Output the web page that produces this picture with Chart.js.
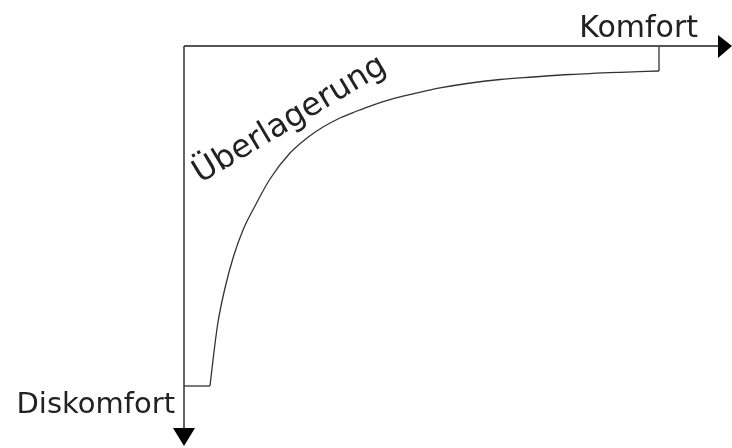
<!DOCTYPE html>
<html>
<head>
<meta charset="utf-8">
<script src="https://cdn.jsdelivr.net/npm/chart.js@4"></script>
<style>
    body { margin: 0; background: #fff; }
    #wrap { width: 732px; height: 448px; }
</style>
</head>
<body>
<div id="wrap"><canvas id="myChart"></canvas></div>
<script>
// curve (x = Komfort direction, y = Diskomfort, grows downward)
const curveX = [4.87, 5.43, 6.37, 7.68, 9.18, 11.05, 13.3, 16.1, 19.85, 23.03, 26.03, 29.21, 32.4, 35.39, 38.58, 43.63, 47.94, 53.0, 59.18, 65.36, 72.28, 81.65, 88.95];
const curveY = [89.01, 82.2, 72.25, 63.35, 55.5, 48.17, 41.88, 34.82, 28.01, 24.08, 21.2, 18.85, 17.02, 15.45, 14.01, 12.3, 10.99, 9.82, 8.77, 8.12, 7.46, 6.88, 6.54];

// the two short straight pieces at both ends of the curve
const startX = [0, 4.87];
const startY = [89.01, 89.01];
const endX = [88.95, 88.95];
const endY = [6.54, 0];

const axisLabels = ['Komfort', 'Diskomfort'];
const curveLabel = 'Überlagerung';

const toPoints = (xs, ys) => xs.map((x, i) => ({ x: x, y: ys[i] }));

// axes with arrow heads + the three texts
const sketchPlugin = {
    id: 'sketch',
    afterDatasetsDraw: (chart) => {
        const ctx = chart.ctx;
        const xs = chart.scales.x;
        const ys = chart.scales.y;
        const x0 = xs.getPixelForValue(0);
        const xEnd = xs.getPixelForValue(100);
        const y0 = ys.getPixelForValue(0);
        const yEnd = ys.getPixelForValue(100);

        ctx.save();
        // horizontal axis
        ctx.strokeStyle = '#555';
        ctx.lineWidth = 2;
        ctx.beginPath();
        ctx.moveTo(x0, y0);
        ctx.lineTo(xEnd, y0);
        ctx.stroke();
        ctx.fillStyle = '#000';
        ctx.beginPath();
        ctx.moveTo(xEnd, y0 - 11);
        ctx.lineTo(xEnd + 14, y0);
        ctx.lineTo(xEnd, y0 + 12);
        ctx.closePath();
        ctx.fill();

        // vertical axis
        ctx.strokeStyle = '#333';
        ctx.lineWidth = 1.5;
        ctx.beginPath();
        ctx.moveTo(x0, y0);
        ctx.lineTo(x0, yEnd);
        ctx.stroke();
        ctx.beginPath();
        ctx.moveTo(x0 - 11, yEnd);
        ctx.lineTo(x0, yEnd + 18);
        ctx.lineTo(x0 + 11, yEnd);
        ctx.closePath();
        ctx.fill();

        // texts
        ctx.fillStyle = '#222';
        ctx.textAlign = 'right';
        ctx.textBaseline = 'alphabetic';
        ctx.font = '30px "DejaVu Sans"';
        ctx.fillText(axisLabels[0], 698, 37);
        ctx.font = '29px "DejaVu Sans"';
        ctx.fillText(axisLabels[1], 175, 413);

        ctx.translate(290, 120);
        ctx.rotate(-31 * Math.PI / 180);
        ctx.textAlign = 'center';
        ctx.textBaseline = 'middle';
        ctx.font = '32px "DejaVu Sans"';
        ctx.fillText(curveLabel, 0, 0);
        ctx.restore();
    }
};

const lineSet = (pts, smooth) => ({
    data: pts,
    showLine: true,
    borderColor: '#333',
    borderWidth: 1.3,
    pointRadius: 0,
    cubicInterpolationMode: smooth ? 'monotone' : 'default',
    tension: 0,
    fill: false
});

const ctx = document.getElementById('myChart').getContext('2d');
new Chart(ctx, {
    type: 'scatter',
    data: {
        datasets: [
            lineSet(toPoints(startX, startY), false),
            lineSet(toPoints(curveX, curveY), true),
            lineSet(toPoints(endX, endY), false)
        ]
    },
    options: {
        responsive: true,
        maintainAspectRatio: false,
        animation: false,
        layout: {
            padding: { left: 184, top: 46, right: 14, bottom: 20 }
        },
        scales: {
            x: { type: 'linear', min: 0, max: 100, display: false },
            y: { type: 'linear', min: 0, max: 100, reverse: true, display: false }
        },
        plugins: {
            legend: { display: false },
            tooltip: { enabled: false }
        }
    },
    plugins: [sketchPlugin]
});
</script>
</body>
</html>
